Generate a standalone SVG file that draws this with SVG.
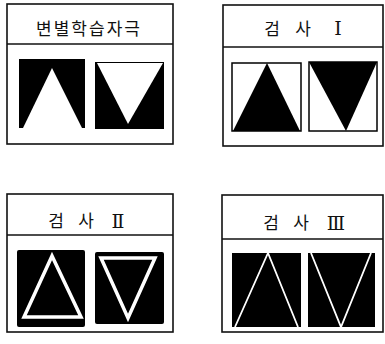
<svg xmlns="http://www.w3.org/2000/svg" width="385" height="344" viewBox="0 0 385 344">
<style>
.frame{fill:#fff;stroke:#111;stroke-width:1.6}
.div{stroke:#111;stroke-width:1.6}
.t{font-family:"Noto Sans CJK KR","Noto Sans",sans-serif;font-size:17px;fill:#111;text-anchor:middle}
.r{font-family:"DejaVu Serif","Liberation Serif",serif;font-size:19px;fill:#111;text-anchor:middle}
.blk{fill:#000}
.wht{fill:#fff}
.sq{fill:#fff;stroke:#000;stroke-width:1.5}
</style>
<rect width="385" height="344" fill="#fff"/>
<g id="panel-training">
<rect class="frame" x="7" y="4" width="166" height="140"/>
<line class="div" x1="7" y1="44" x2="173" y2="44"/>
<text class="t" x="89" y="35" font-size="18" letter-spacing="2">변별학습자극</text>
<rect class="blk" x="19" y="59" width="66" height="69"/>
<polygon class="wht" points="52,68 23,128 82,128"/>
<rect class="blk" x="95" y="62" width="69" height="67"/>
<polygon class="wht" points="97,63 163,63 128,124"/>
</g>
<g id="panel-test1">
<rect class="frame" x="223" y="5" width="160" height="141"/>
<line class="div" x1="223" y1="47" x2="383" y2="47"/>
<text class="t" x="272" y="35">검</text>
<text class="t" x="303" y="35">사</text>
<text class="r" x="338" y="35">Ⅰ</text>
<rect class="sq" x="232" y="63" width="69" height="68"/>
<polygon class="blk" points="267,63 233,131 300,131"/>
<rect class="sq" x="309" y="62" width="68" height="69"/>
<polygon class="blk" points="309,62 377,62 346,131"/>
</g>
<g id="panel-test2">
<rect class="frame" x="7" y="194" width="166" height="138"/>
<line class="div" x1="7" y1="235" x2="173" y2="235"/>
<text class="t" x="56" y="227">검</text>
<text class="t" x="86" y="227">사</text>
<text class="r" x="118" y="228">Ⅱ</text>
<rect class="blk" x="17" y="250" width="68" height="77" rx="2"/>
<polygon points="52,256 24,317 81,317" fill="none" stroke="#fff" stroke-width="3.5" stroke-linejoin="miter"/>
<rect class="blk" x="95" y="252" width="69" height="72" rx="2"/>
<polygon points="101,258 155,258 128,318" fill="none" stroke="#fff" stroke-width="3.5"/>
</g>
<g id="panel-test3">
<rect class="frame" x="222" y="195" width="161" height="137"/>
<line class="div" x1="222" y1="239" x2="383" y2="239"/>
<text class="t" x="271" y="229">검</text>
<text class="t" x="301" y="229">사</text>
<text class="r" x="336" y="230">Ⅲ</text>
<rect class="blk" x="232" y="253" width="69" height="74"/>
<polyline points="235,327 268,253 298,327" fill="none" stroke="#fff" stroke-width="1.8"/>
<rect class="blk" x="308" y="253" width="67" height="74"/>
<polyline points="311,253 341,327 371,253" fill="none" stroke="#fff" stroke-width="1.8"/>
</g>
<g id="connectors"></g>
</svg>
